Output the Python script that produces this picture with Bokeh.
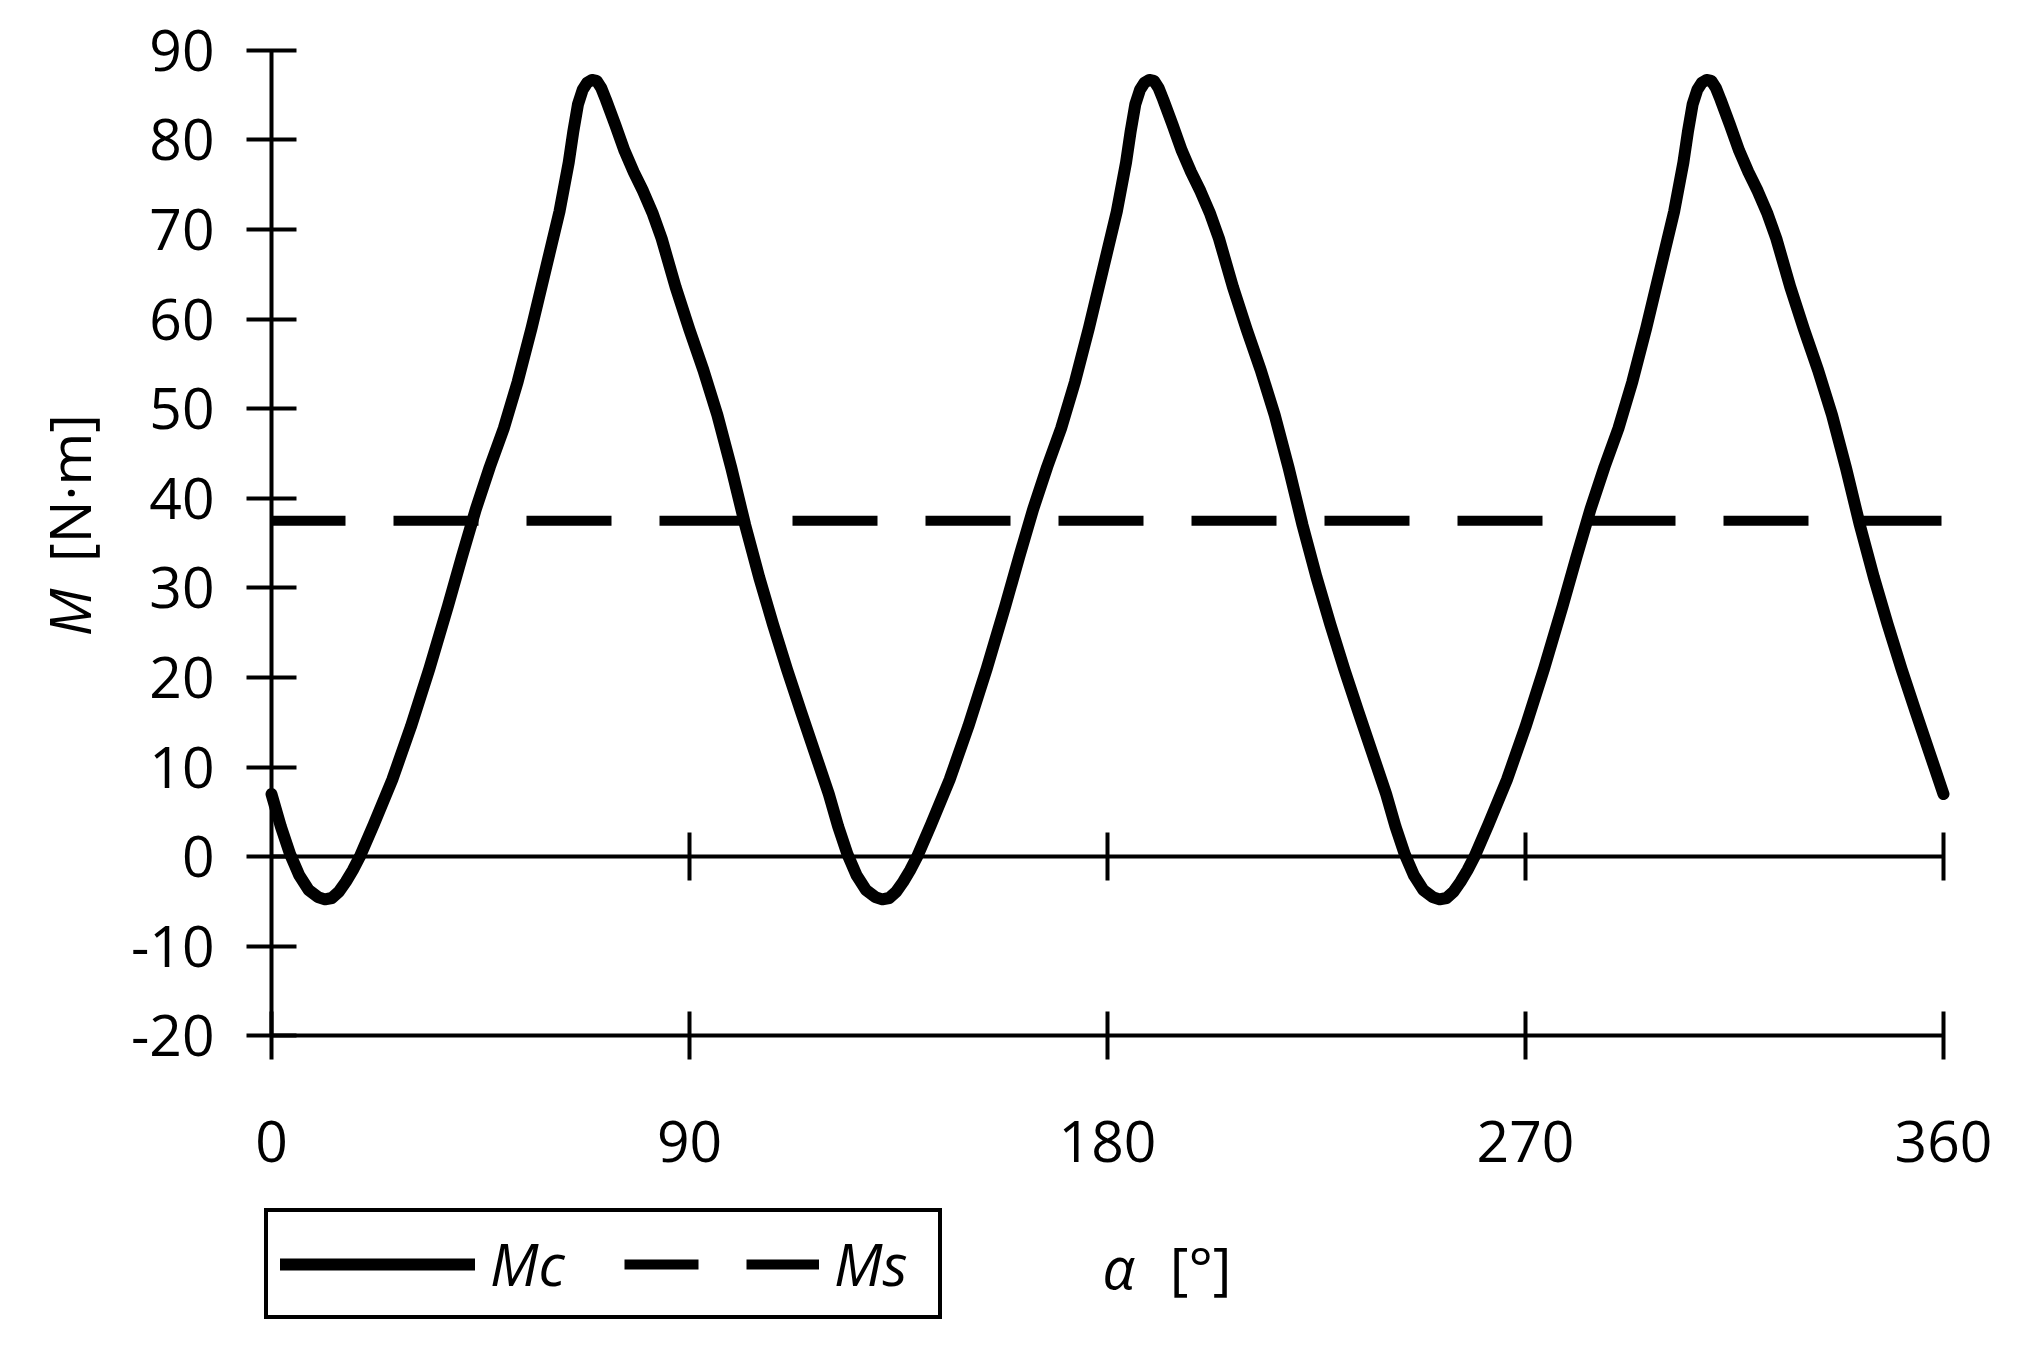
import math
from bokeh.plotting import figure
from bokeh.models import LinearAxis, FixedTicker, Legend, LegendItem, Label, Range1d
from bokeh.embed import file_html
from bokeh.resources import INLINE

# ---- data ----
mc_angle = [
    0, 2, 4, 5, 6, 8, 10, 11.5, 13, 14.5, 16, 17.5, 19, 22, 26, 30, 34, 38, 41, 44,
    47, 50, 53, 56, 59, 62, 64, 65, 66, 67, 68, 69, 70, 71, 72, 73, 74, 76, 78, 80,
    82, 84, 87, 90, 93, 96, 99, 102, 105, 108, 111, 114, 117,
    120, 122, 124, 125, 126, 128, 130, 131.5, 133, 134.5, 136, 137.5, 139, 142, 146, 150, 154, 158, 161, 164,
    167, 170, 173, 176, 179, 182, 184, 185, 186, 187, 188, 189, 190, 191, 192, 193, 194, 196, 198, 200,
    202, 204, 207, 210, 213, 216, 219, 222, 225, 228, 231, 234, 237,
    240, 242, 244, 245, 246, 248, 250, 251.5, 253, 254.5, 256, 257.5, 259, 262, 266, 270, 274, 278, 281, 284,
    287, 290, 293, 296, 299, 302, 304, 305, 306, 307, 308, 309, 310, 311, 312, 313, 314, 316, 318, 320,
    322, 324, 327, 330, 333, 336, 339, 342, 345, 348, 351, 354, 357,
    360,
]
mc_values = [
    7, 3.4, 0.3, -0.9, -2.1, -3.7, -4.5, -4.75, -4.6, -3.9, -2.8, -1.5, 0, 3.6, 8.6, 14.5, 21, 28, 33.5, 38.8,
    43.5, 47.8, 53, 59, 65.5, 72, 77.5, 81, 84, 85.6, 86.4, 86.7, 86.6, 85.8, 84.5, 83.1, 81.7, 78.8, 76.4, 74.3,
    71.9, 69, 63.6, 58.8, 54.3, 49.3, 43.4, 37, 31.2, 25.9, 20.9, 16.2, 11.6,
    7, 3.4, 0.3, -0.9, -2.1, -3.7, -4.5, -4.75, -4.6, -3.9, -2.8, -1.5, 0, 3.6, 8.6, 14.5, 21, 28, 33.5, 38.8,
    43.5, 47.8, 53, 59, 65.5, 72, 77.5, 81, 84, 85.6, 86.4, 86.7, 86.6, 85.8, 84.5, 83.1, 81.7, 78.8, 76.4, 74.3,
    71.9, 69, 63.6, 58.8, 54.3, 49.3, 43.4, 37, 31.2, 25.9, 20.9, 16.2, 11.6,
    7, 3.4, 0.3, -0.9, -2.1, -3.7, -4.5, -4.75, -4.6, -3.9, -2.8, -1.5, 0, 3.6, 8.6, 14.5, 21, 28, 33.5, 38.8,
    43.5, 47.8, 53, 59, 65.5, 72, 77.5, 81, 84, 85.6, 86.4, 86.7, 86.6, 85.8, 84.5, 83.1, 81.7, 78.8, 76.4, 74.3,
    71.9, 69, 63.6, 58.8, 54.3, 49.3, 43.4, 37, 31.2, 25.9, 20.9, 16.2, 11.6,
    7,
]
ms_angle = [0, 360]
ms_values = [37.5, 37.5]

x_ticks = [0, 90, 180, 270, 360]
zero_line_ticks = [90, 180, 270, 360]
y_ticks = [-20, -10, 0, 10, 20, 30, 40, 50, 60, 70, 80, 90]
y_tick_text = {-20: "-20", -10: "-10"}

FONT = "Open Sans"
W, H = 2020, 1345

# the plot frame fills the whole canvas; axes are pinned at data locations
p = figure(width=W, height=H, output_backend="svg", toolbar_location=None,
           x_range=Range1d(-58.35, 376.58), y_range=Range1d(-54.54, 95.56),
           x_axis_type=None, y_axis_type=None, min_border=0)
p.outline_line_color = None
p.background_fill_color = "white"
p.border_fill_color = "white"

axis_style = dict(minor_tick_in=0, minor_tick_out=0, axis_line_width=4, major_tick_line_width=4,
                  axis_line_color="black", major_tick_line_color="black",
                  major_label_text_font=FONT, major_label_text_font_size="57px",
                  major_label_text_color="black")

yaxis = LinearAxis(ticker=FixedTicker(ticks=y_ticks), fixed_location=0, bounds=(-20, 90),
                   major_tick_in=25, major_tick_out=25, major_label_standoff=32,
                   major_label_overrides=y_tick_text, **axis_style)
p.add_layout(yaxis, "left")

xaxis = LinearAxis(ticker=FixedTicker(ticks=x_ticks), fixed_location=-20, bounds=(0, 360),
                   major_tick_in=24, major_tick_out=24, major_label_standoff=61, **axis_style)
p.add_layout(xaxis, "below")

zaxis = LinearAxis(ticker=FixedTicker(ticks=zero_line_ticks), fixed_location=0, bounds=(0, 360),
                   major_tick_in=24, major_tick_out=24, major_label_standoff=0,
                   major_label_overrides={t: "" for t in zero_line_ticks}, **axis_style)
p.add_layout(zaxis, "below")

r_ms = p.line(ms_angle, ms_values, line_width=10, line_color="black",
              line_dash="85 48", line_dash_offset=11, line_cap="butt")
r_mc = p.line(mc_angle, mc_values, line_width=12, line_color="black",
              line_join="round", line_cap="round")

legend = Legend(items=[LegendItem(label="Mc", renderers=[r_mc]),
                       LegendItem(label="Ms", renderers=[r_ms])],
                orientation="horizontal", location=(264, H - 1319),
                glyph_width=195, glyph_height=20, label_standoff=15, spacing=42,
                label_width=92, padding=12, margin=0,
                border_line_color="black", border_line_width=4, border_line_alpha=1,
                background_fill_color="white", background_fill_alpha=1,
                label_text_font=FONT, label_text_font_style="italic",
                label_text_font_size="58px", label_text_color="black")
p.add_layout(legend, "center")

p.add_layout(Label(x=-43.5, y=24.6, text="M", angle=math.pi / 2, text_font=FONT,
                   text_font_style="italic", text_font_size="57px", text_color="black",
                   text_baseline="alphabetic", text_align="left"))
p.add_layout(Label(x=-43.5, y=32.9, text="[N·m]", angle=math.pi / 2, text_font=FONT,
                   text_font_size="57px", text_color="black",
                   text_baseline="alphabetic", text_align="left"))
p.add_layout(Label(x=178.9, y=-45.8, text="α", text_font=FONT, text_font_style="italic",
                   text_font_size="57px", text_color="black",
                   text_baseline="alphabetic", text_align="left"))
p.add_layout(Label(x=193.4, y=-45.8, text="[°]", text_font=FONT,
                   text_font_size="57px", text_color="black",
                   text_baseline="alphabetic", text_align="left"))

open("out.html", "w").write(file_html(p, INLINE))
